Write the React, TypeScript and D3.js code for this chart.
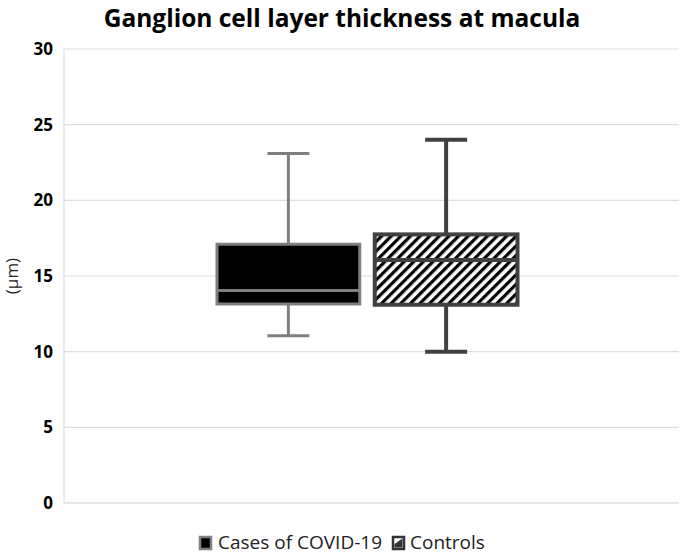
import React from "react";
import * as d3 from "d3";

const title = "Ganglion cell layer thickness at macula";
const yLabel = "(µm)";
const yTicks = [0, 5, 10, 15, 20, 25, 30];
const seriesNames = ["Cases of COVID-19", "Controls"];
const whiskerLow = [11.05, 10.0];
const q1 = [13.15, 13.1];
const median = [14.05, 16.05];
const q3 = [17.1, 17.75];
const whiskerHigh = [23.1, 24.0];

const W = 681;
const H = 554;
const plot = { left: 64, right: 679, top: 49, bottom: 503 };
const font = "'Open Sans', 'Noto Sans', sans-serif";

export default function App() {
  const y = d3.scaleLinear().domain([0, 30]).range([plot.bottom, plot.top]);
  const x = d3
    .scaleBand<string>()
    .domain(seriesNames)
    .range([217, 517.5])
    .paddingInner(0.095)
    .paddingOuter(0);
  const strokes = ["#7f7f7f", "#404040"];
  const strokeW = [3, 4];
  const fills = ["#000000", "url(#hatch)"];
  const capHalf = 21;

  return (
    <svg
      width={W}
      height={H}
      style={{ position: "absolute", left: 0, top: 0, background: "#fff" }}
      fontFamily={font}
    >
      <defs>
        <pattern
          id="hatch"
          patternUnits="userSpaceOnUse"
          width={6.8}
          height={6.8}
          patternTransform="rotate(45)"
        >
          <rect width={6.8} height={6.8} fill="#fff" />
          <rect x={0} y={0} width={3.2} height={6.8} fill="#000" />
        </pattern>
      </defs>
      <rect width={W} height={H} fill="#fff" />
      <text
        x={342}
        y={26.5}
        textAnchor="middle"
        fontSize={24.5}
        fontWeight="bold"
        fill="#000"
      >
        {title}
      </text>
      {yTicks.map((t) => (
        <g key={t}>
          <line
            x1={plot.left}
            x2={plot.right}
            y1={y(t)}
            y2={y(t)}
            stroke={t === 0 ? "#d0d0d0" : "#dedede"}
            strokeWidth={1.2}
          />
          <text
            x={53}
            y={y(t)}
            dy="0.36em"
            textAnchor="end"
            fontSize={17}
            fontWeight="bold"
            fill="#000"
          >
            {t}
          </text>
        </g>
      ))}
      <line
        x1={plot.left}
        x2={plot.left}
        y1={plot.top}
        y2={plot.bottom}
        stroke="#dedede"
        strokeWidth={1.2}
      />
      <text
        transform={`translate(18,${y(15)}) rotate(-90)`}
        textAnchor="middle"
        fontSize={17}
        fill="#222"
      >
        {yLabel}
      </text>
      {seriesNames.map((s, i) => {
        const x0 = x(s)!;
        const bw = x.bandwidth();
        const cx = x0 + bw / 2;
        return (
          <g key={s} stroke={strokes[i]} strokeWidth={strokeW[i]}>
            <line x1={cx} x2={cx} y1={y(whiskerHigh[i])} y2={y(q3[i])} />
            <line x1={cx} x2={cx} y1={y(q1[i])} y2={y(whiskerLow[i])} />
            <line
              x1={cx - capHalf}
              x2={cx + capHalf}
              y1={y(whiskerHigh[i])}
              y2={y(whiskerHigh[i])}
            />
            <line
              x1={cx - capHalf}
              x2={cx + capHalf}
              y1={y(whiskerLow[i])}
              y2={y(whiskerLow[i])}
            />
            <rect
              x={x0}
              y={y(q3[i])}
              width={bw}
              height={y(q1[i]) - y(q3[i])}
              fill={fills[i]}
            />
            <line
              x1={x0}
              x2={x0 + bw}
              y1={y(median[i])}
              y2={y(median[i])}
            />
          </g>
        );
      })}
      <g fontSize={19} fill="#222">
        <rect x={200} y={537} width={11} height={12} fill="#000" stroke="#7f7f7f" strokeWidth={2.5} />
        <text x={218} y={549}>{seriesNames[0]}</text>
        <rect x={393} y={537} width={11} height={12} fill="#fff" stroke="#333" strokeWidth={2.5} />
        <path d="M394.5,547.5 L394.5,544 L402.5,538.5 L402.5,547.5 Z" fill="#333" />
        <text x={410} y={549}>{seriesNames[1]}</text>
      </g>
    </svg>
  );
}
